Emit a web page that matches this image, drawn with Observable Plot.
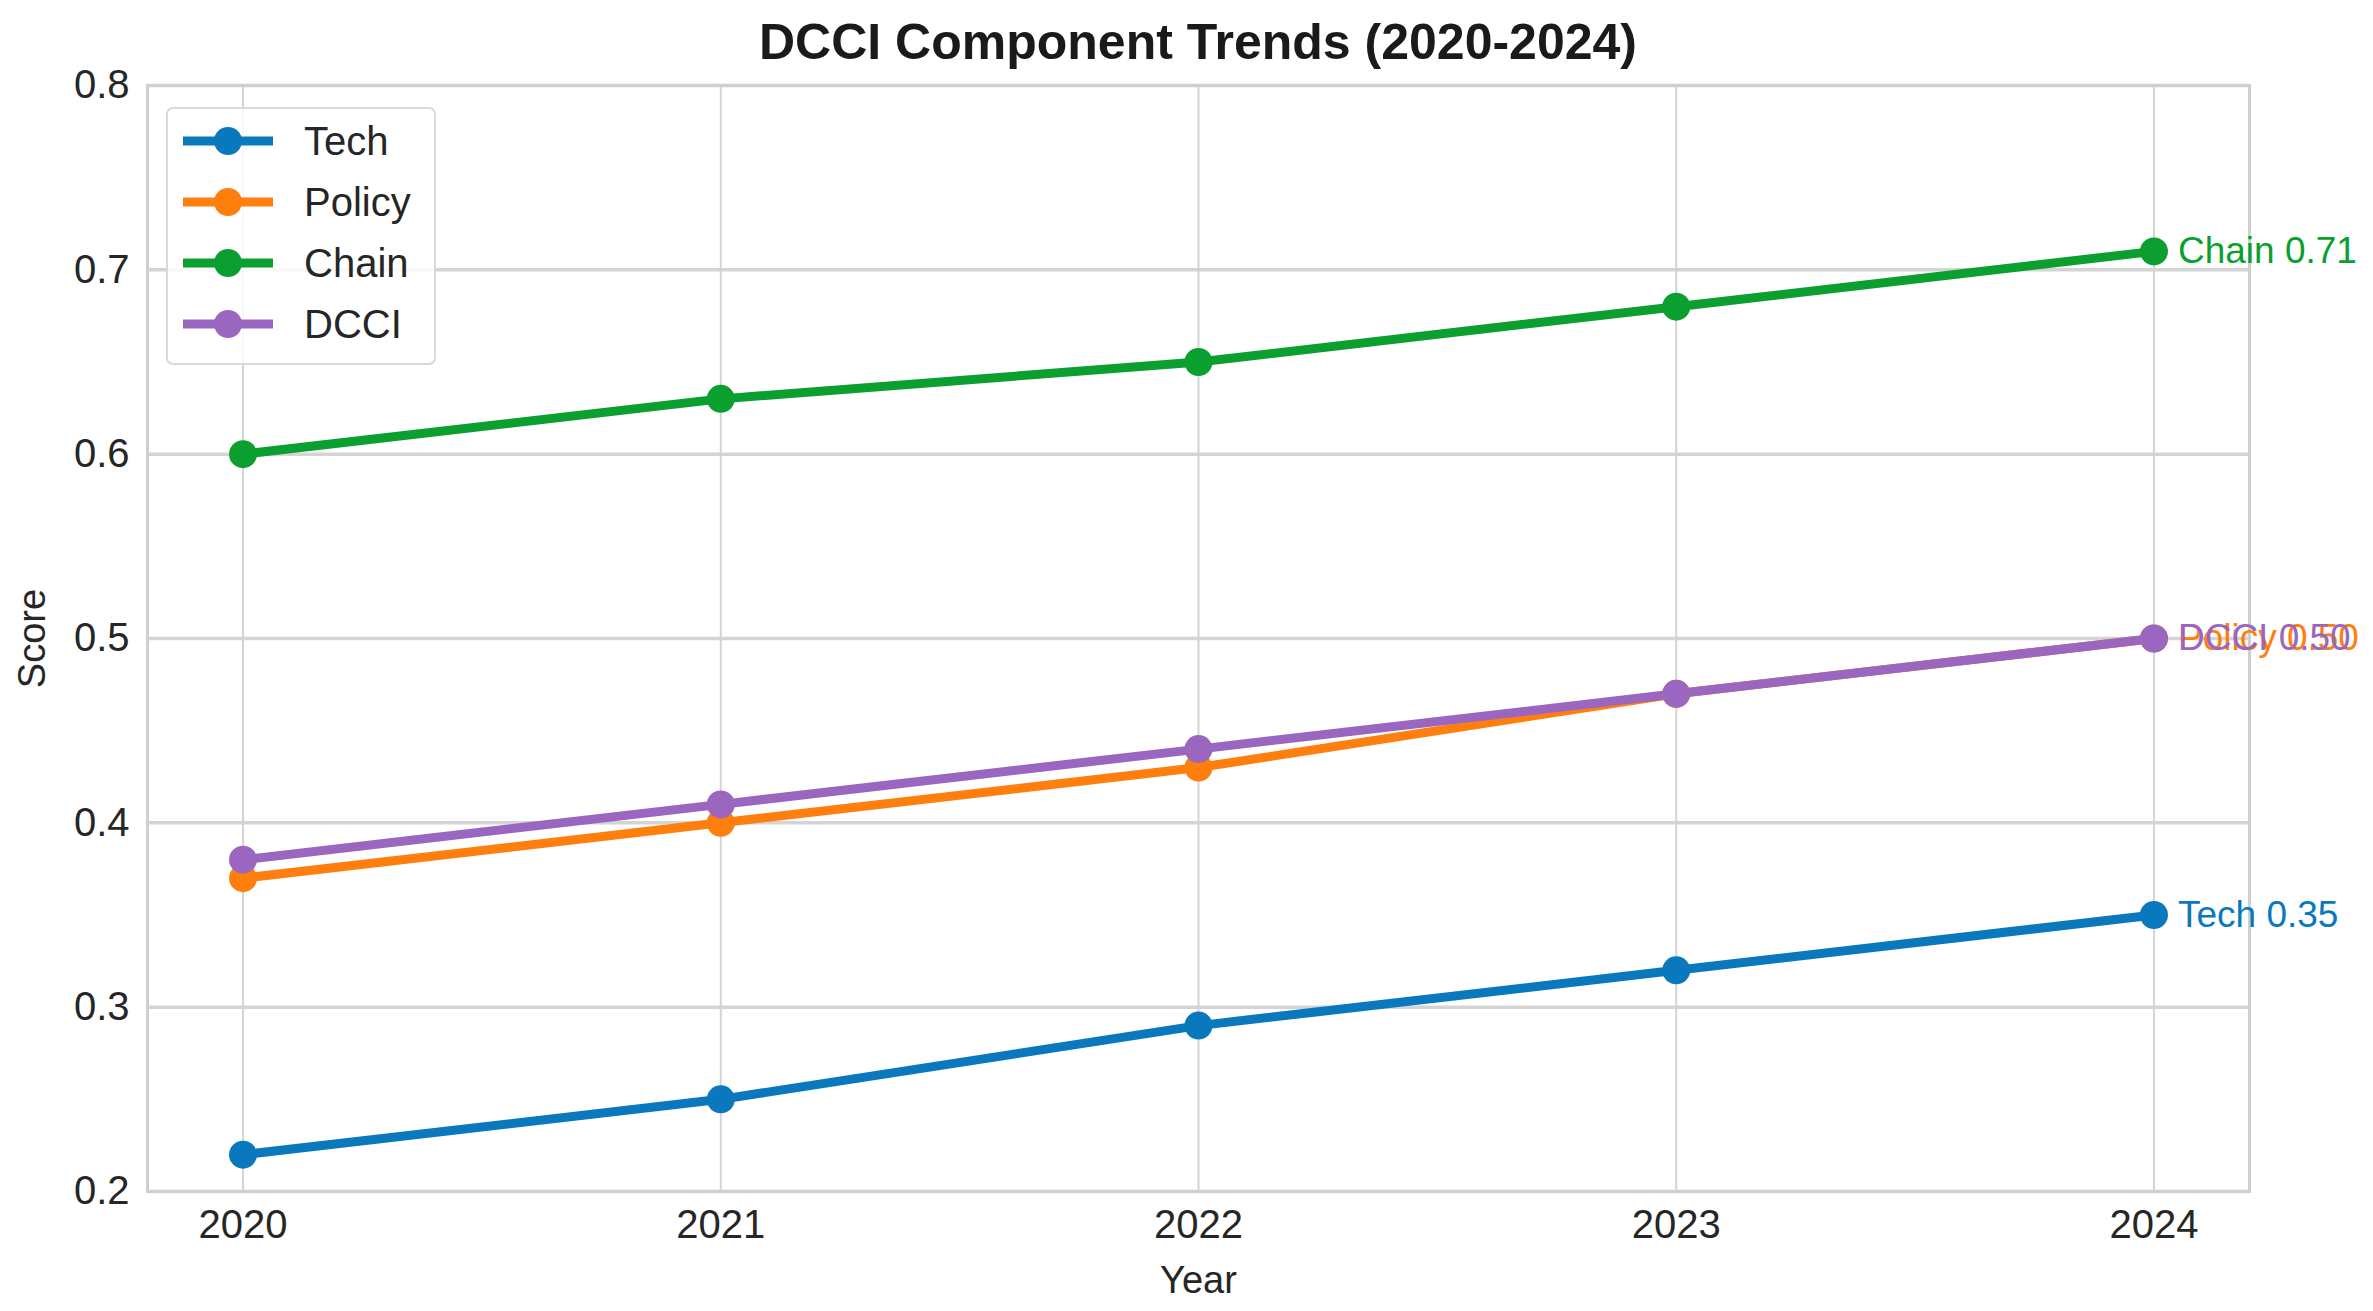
<!DOCTYPE html>
<html>
<head>
<meta charset="utf-8">
<script src="https://cdn.jsdelivr.net/npm/d3@7"></script>
<script src="https://cdn.jsdelivr.net/npm/@observablehq/plot@0.6"></script>
<style>
  html, body { margin: 0; padding: 0; background: #fff; }
  body { width: 2373px; height: 1311px; position: relative; overflow: hidden; font-family: "Liberation Sans", Arial, sans-serif; }
  #title { box-sizing: content-box; height: 48px; padding-top: 12px; line-height: 60px; padding-left: 147px; padding-right: 124px; text-align: center; font-size: 50px; font-weight: bold; color: #1a1a1a; }
  #legend { position: absolute; left: 166px; top: 107px; width: 266px; height: 254px; border: 2px solid #d9d9d9; border-radius: 7px; background: rgba(255,255,255,0.85); }
  .row { position: absolute; left: 0; height: 60px; width: 100%; }
  .row svg { position: absolute; left: 14px; top: 0; }
  .row span { position: absolute; left: 136px; top: 0; line-height: 60px; font-size: 40px; color: #262626; }
</style>
</head>
<body>
<div id="title">DCCI Component Trends (2020-2024)</div>
<div id="chart"></div>
<div id="legend"></div>
<script>
const years = [2020, 2021, 2022, 2023, 2024];
const seriesNames = ["Tech", "Policy", "Chain", "DCCI"];
const tech   = [0.22, 0.25, 0.29, 0.32, 0.35];
const policy = [0.37, 0.40, 0.43, 0.47, 0.50];
const chain  = [0.60, 0.63, 0.65, 0.68, 0.71];
const dcci   = [0.38, 0.41, 0.44, 0.47, 0.50];
const colors = ["#0a78bd", "#ff7f0e", "#0a9f2e", "#9b66bf"];
const yTicks = [0.2, 0.3, 0.4, 0.5, 0.6, 0.7, 0.8];
const xTicks = years;

const values = [tech, policy, chain, dcci];
const rows = [];
seriesNames.forEach((s, i) => years.forEach((yr, j) => rows.push({series: s, year: yr, value: values[i][j]})));
const last = seriesNames.map((s, i) => ({series: s, year: years[years.length - 1], value: values[i][years.length - 1]}));

const font = "'Liberation Sans', Arial, sans-serif";
const plot = Plot.plot({
  width: 2373,
  height: 1251,
  marginTop: 25,
  marginBottom: 120,
  marginLeft: 147,
  marginRight: 124,
  style: {fontFamily: font, fontSize: "40px", color: "#262626", background: "transparent", overflow: "visible"},
  x: {domain: [2019.8, 2024.2]},
  y: {domain: [0.2, 0.8]},
  color: {domain: seriesNames, range: colors},
  marks: [
    Plot.gridY(yTicks, {stroke: "#d4d4d4", strokeOpacity: 1, strokeWidth: 3.5}),
    Plot.gridX(xTicks, {stroke: "#d4d4d4", strokeOpacity: 1, strokeWidth: 2}),
    Plot.frame({stroke: "#cfcfcf", strokeWidth: 3}),
    Plot.axisY(yTicks, {tickSize: 0, tickPadding: 18, tickFormat: d => d.toFixed(1), label: null, fill: "#262626"}),
    Plot.axisX(xTicks, {tickSize: 0, tickPadding: 18, tickFormat: d => String(d), label: null, fill: "#262626"}),
    Plot.line(rows, {x: "year", y: "value", z: "series", stroke: "series", strokeWidth: 9}),
    Plot.dot(rows, {x: "year", y: "value", fill: "series", r: 14}),
    Plot.text(last, {x: "year", y: "value", text: d => `${d.series} ${d.value.toFixed(2)}`, fill: "series", textAnchor: "start", dx: 24, fontSize: 37}),
    Plot.text(["Year"], {frameAnchor: "bottom", dy: 101, fontSize: 38, fill: "#262626"}),
    Plot.text(["Score"], {frameAnchor: "left", textAnchor: "middle", dx: -115, rotate: -90, fontSize: 38, fill: "#262626"})
  ]
});
document.getElementById("chart").appendChild(plot);

// legend
const legend = document.getElementById("legend");
seriesNames.forEach((s, i) => {
  const row = document.createElement("div");
  row.className = "row";
  row.style.top = (2 + i * 61) + "px";
  row.innerHTML = `<svg width="92" height="60"><line x1="1" x2="91" y1="30" y2="30" stroke="${colors[i]}" stroke-width="9"/><circle cx="46" cy="30" r="14" fill="${colors[i]}"/></svg><span>${s}</span>`;
  legend.appendChild(row);
});
</script>
</body>
</html>
